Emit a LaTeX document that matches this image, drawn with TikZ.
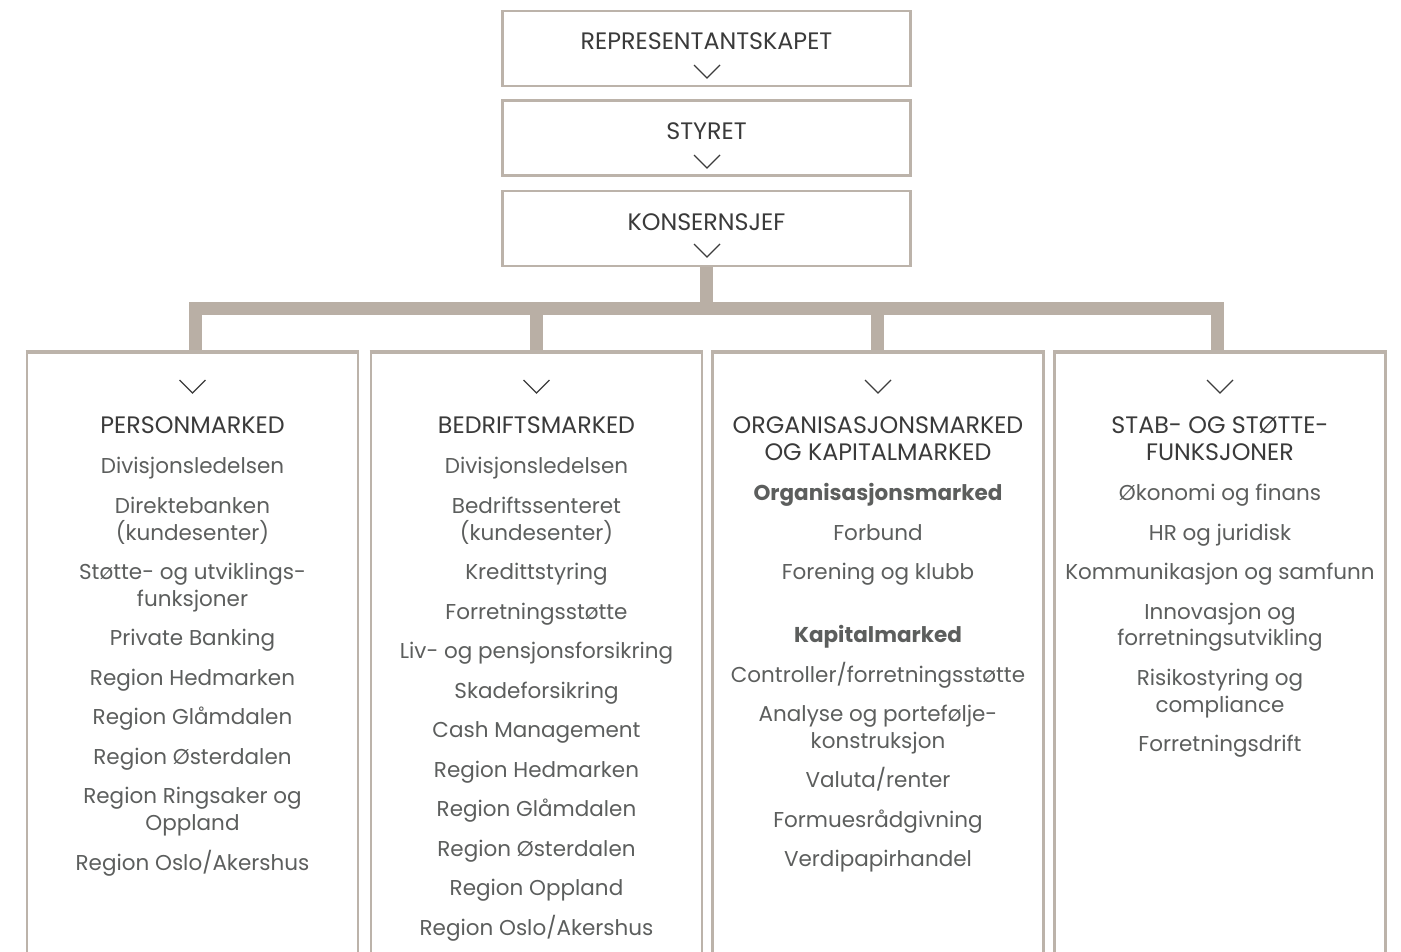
\documentclass[tikz,border=0pt]{standalone}
\usepackage{fontspec}
\setmainfont{Poppins}
\definecolor{frame}{RGB}{188,179,170}
\definecolor{barc}{RGB}{185,175,165}
\definecolor{headc}{RGB}{58,58,58}
\definecolor{itemc}{RGB}{92,94,93}
\definecolor{chevc}{RGB}{60,60,60}
\tikzset{
  topbox/.style={draw=frame, line width=2.6pt, minimum width=408pt, minimum height=75pt, inner sep=0pt},
  colbox/.style={draw=frame, line width=2.6pt, minimum width=331pt, minimum height=660pt, inner sep=0pt},
  bar/.style={draw=barc, line width=13pt, line join=miter},
  chev/.style={draw=chevc, line width=1.3pt, line join=miter},
  toptxt/.style={anchor=base, inner sep=0pt, text=headc, font=\fontsize{23.8}{26}\selectfont},
  head/.style={anchor=base, inner sep=0pt, text=headc, font=\fontsize{23.8}{26}\selectfont},
  item/.style={anchor=base, inner sep=0pt, text=itemc, font=\fontsize{21.5}{26}\selectfont},
  bitem/.style={anchor=base, inner sep=0pt, text=itemc, font=\fontsize{21.5}{26}\selectfont\bfseries},
}
\newcommand{\chevron}[3]{% name, x, top y
  \coordinate (#1) at (#2,#3);
  \draw[chev] ([xshift=-13pt]#1) -- ([yshift=-13pt]#1) -- ([xshift=13pt]#1);}
\begin{document}
\begin{tikzpicture}[x=1pt,y=-1pt]
\clip (0,0) rectangle (1401,951);
% top boxes
\node[topbox] (rep) at (706.5,48.5) {};
\node[topbox] (sty) at (706.5,138) {};
\node[topbox] (kon) at (706.5,228.5) {};
\node[toptxt] (repT) at (706.5,49) {REPRESENTANTSKAPET};
\node[toptxt] (styT) at (706.5,139) {STYRET};
\node[toptxt] (konT) at (706.5,230) {KONSERNSJEF};
\chevron{c1}{707}{65}
\chevron{c2}{707}{155}
\chevron{c3}{707}{244}
% column boxes
\node[colbox] (pm) at (192.5,683) {};
\node[colbox] (bm) at (536.5,683) {};
\node[colbox] (ok) at (878,683) {};
\node[colbox] (ss) at (1220,683) {};
% connectors
\coordinate (barL) at (195,308.5);
\coordinate (barM) at (706.5,308.5);
\coordinate (barR) at (1217,308.5);
\draw[bar] (kon.south) -- (barM);
\draw[bar] (pm.north -| barL) -- (barL) -- (barR) -- (ss.north -| barR);
\draw[bar] (bm.north) -- (bm.north |- barL);
\draw[bar] ([xshift=-0.5pt]ok.north) -- ([xshift=-0.5pt]ok.north |- barL);
% redraw column tops over bar ends
\draw[draw=frame, line width=2.6pt] (pm.north west) -- (pm.north east);
\draw[draw=frame, line width=2.6pt] (bm.north west) -- (bm.north east);
\draw[draw=frame, line width=2.6pt] (ok.north west) -- (ok.north east);
\draw[draw=frame, line width=2.6pt] (ss.north west) -- (ss.north east);
% chevrons in columns
\chevron{c4}{192.5}{380}
\chevron{c5}{536.5}{380}
\chevron{c6}{878}{380}
\chevron{c7}{1220}{380}
% column 1
\node[head] (p0) at (192.5,433) {PERSONMARKED};
\node[item] (p1) at (192.5,473) {Divisjonsledelsen};
\node[item] (p2) at (192.5,513) {Direktebanken};
\node[item] (p2b) at (192.5,540) {(kundesenter)};
\node[item] (p3) at (192.5,579) {Støtte- og utviklings-};
\node[item] (p3b) at (192.5,606) {funksjoner};
\node[item] (p4) at (192.5,645) {Private Banking};
\node[item] (p5) at (192.5,685) {Region Hedmarken};
\node[item] (p6) at (192.5,724) {Region Glåmdalen};
\node[item] (p7) at (192.5,764) {Region Østerdalen};
\node[item] (p8) at (192.5,803) {Region Ringsaker og};
\node[item] (p8b) at (192.5,830) {Oppland};
\node[item] (p9) at (192.5,870) {Region Oslo/Akershus};
% column 2
\node[head] (b0) at (536.5,433) {BEDRIFTSMARKED};
\node[item] (b1) at (536.5,473) {Divisjonsledelsen};
\node[item] (b2) at (536.5,513) {Bedriftssenteret};
\node[item] (b2b) at (536.5,540) {(kundesenter)};
\node[item] (b3) at (536.5,579) {Kredittstyring};
\node[item] (b4) at (536.5,619) {Forretningsstøtte};
\node[item] (b5) at (536.5,658) {Liv- og pensjonsforsikring};
\node[item] (b6) at (536.5,698) {Skadeforsikring};
\node[item] (b7) at (536.5,737) {Cash Management};
\node[item] (b8) at (536.5,777) {Region Hedmarken};
\node[item] (b9) at (536.5,816) {Region Glåmdalen};
\node[item] (b10) at (536.5,856) {Region Østerdalen};
\node[item] (b11) at (536.5,895) {Region Oppland};
\node[item] (b12) at (536.5,935) {Region Oslo/Akershus};
% column 3
\node[head] (o0) at (878,433) {ORGANISASJONSMARKED};
\node[head] (o0b) at (878,460) {OG KAPITALMARKED};
\node[bitem] (o1) at (878,500) {Organisasjonsmarked};
\node[item] (o2) at (878,540) {Forbund};
\node[item] (o3) at (878,579) {Forening og klubb};
\node[bitem] (o4) at (878,642) {Kapitalmarked};
\node[item] (o5) at (878,682) {Controller/forretningsstøtte};
\node[item] (o6) at (878,721) {Analyse og portefølje-};
\node[item] (o6b) at (878,748) {konstruksjon};
\node[item] (o7) at (878,787) {Valuta/renter};
\node[item] (o8) at (878,827) {Formuesrådgivning};
\node[item] (o9) at (878,866) {Verdipapirhandel};
% column 4
\node[head] (s0) at (1220,433) {STAB- OG STØTTE-};
\node[head] (s0b) at (1220,460) {FUNKSJONER};
\node[item] (s1) at (1220,500) {Økonomi og finans};
\node[item] (s2) at (1220,540) {HR og juridisk};
\node[item] (s3) at (1220,579) {Kommunikasjon og samfunn};
\node[item] (s4) at (1220,619) {Innovasjon og};
\node[item] (s4b) at (1220,645) {forretningsutvikling};
\node[item] (s5) at (1220,685) {Risikostyring og};
\node[item] (s5b) at (1220,712) {compliance};
\node[item] (s6) at (1220,751) {Forretningsdrift};
\end{tikzpicture}
\end{document}
